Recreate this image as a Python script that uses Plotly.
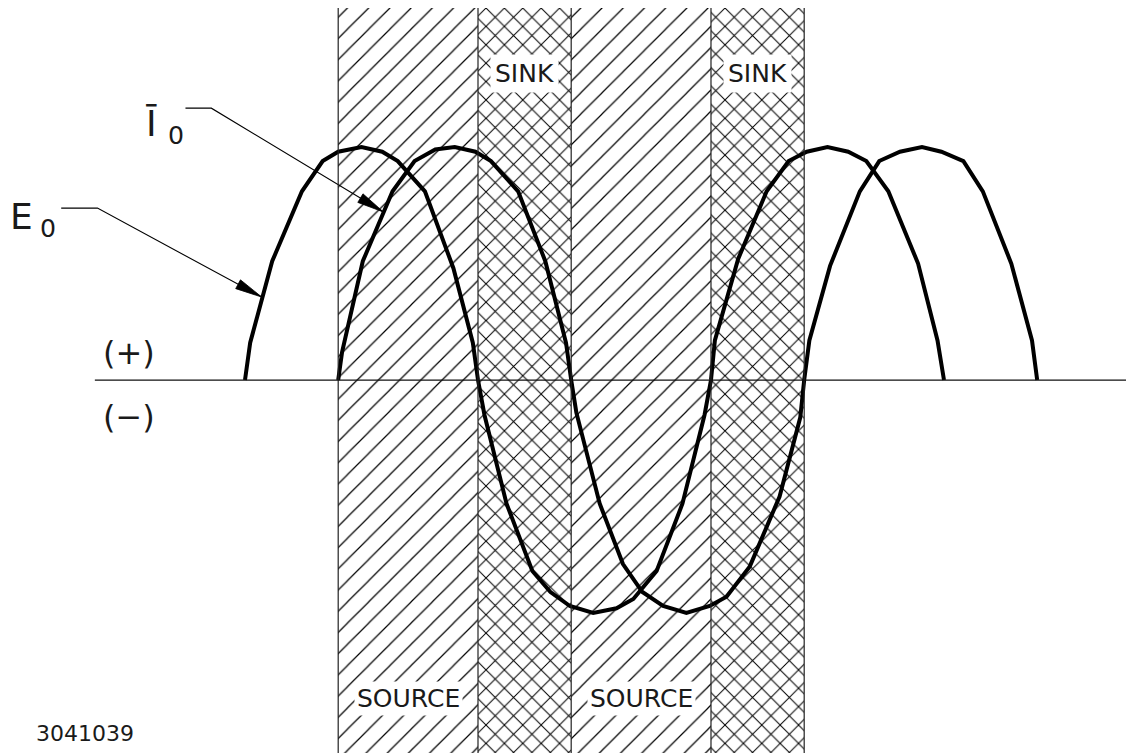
import math
import plotly.graph_objects as go

# E0 (voltage) and I0 (current) polylines, x in electrical degrees, y in per-unit
e0_deg = [0, 4, 21, 44, 60, 72, 90, 106, 118, 139, 161, 176, 180,
          185, 202, 222, 236, 251, 269, 287, 300, 318, 338, 355, 360,
          363, 381, 403, 420, 434, 450, 466, 480, 497, 520, 535, 540]
e0_val = [0, 0.16, 0.51, 0.81, 0.94, 0.98, 1.0, 0.98, 0.94, 0.81, 0.48, 0.16, 0,
          -0.15, -0.53, -0.82, -0.91, -0.97, -1.0, -0.98, -0.94, -0.82, -0.53, -0.15, 0,
          0.17, 0.52, 0.81, 0.94, 0.98, 1.0, 0.98, 0.94, 0.81, 0.50, 0.17, 0]

i0_deg = [72, 75, 91, 114, 131, 147, 162, 178, 190, 211, 232, 248, 252,
          256, 274, 292, 307, 323, 341, 359, 372, 390, 413, 429, 432,
          436, 452, 475, 490, 506, 523, 538, 555, 570, 592, 608, 612]
i0_val = [0, 0.12, 0.51, 0.81, 0.94, 0.99, 1.0, 0.98, 0.94, 0.81, 0.51, 0.16, 0,
          -0.14, -0.53, -0.79, -0.91, -0.97, -1.0, -0.97, -0.93, -0.80, -0.50, -0.16, 0,
          0.17, 0.49, 0.81, 0.94, 0.98, 1.0, 0.98, 0.94, 0.81, 0.50, 0.17, 0]

# regions between zero crossings
band_edges = [72, 180, 252, 360, 432]
band_names = ["SOURCE", "SINK", "SOURCE", "SINK"]

# leader lines for the curve labels (label end, bend, tip on curve)
e_lead_x = [-142, -114, 13]
e_lead_y = [0.738, 0.738, 0.356]
i_lead_x = [-46, -26, 107]
i_lead_y = [1.167, 1.167, 0.721]

# page body has an 8px margin, so the figure is 8px smaller than the window
W, H = 1126, 745
X_RANGE = [-183.1, 686.8]
Y_RANGE = [-1.601, 1.597]
BAND_TOP = 1.60
BAND_BOT = -1.75
FONT = "DejaVu Sans"
INK = "#1a1a1a"

sx = W / (X_RANGE[1] - X_RANGE[0])
sy = H / (Y_RANGE[1] - Y_RANGE[0])


def arrow_head(xs, ys, length=27, half=5):
    # narrow drafting arrowhead at the last point, sized in screen pixels
    x0, y0 = xs[-2] * sx, ys[-2] * sy
    x1, y1 = xs[-1] * sx, ys[-1] * sy
    d = math.hypot(x1 - x0, y1 - y0)
    ux, uy = (x1 - x0) / d, (y1 - y0) / d
    bx, by = x1 - ux * length, y1 - uy * length
    pts = [(x1, y1), (bx - uy * half, by + ux * half), (bx + uy * half, by - ux * half), (x1, y1)]
    return [p[0] / sx for p in pts], [p[1] / sy for p in pts]


fig = go.Figure()

# hatched bands
for k in range(len(band_names)):
    x0, x1 = band_edges[k], band_edges[k + 1]
    source = band_names[k] == "SOURCE"
    fig.add_trace(go.Bar(
        x=[(x0 + x1) / 2], y=[BAND_TOP - BAND_BOT], base=[BAND_BOT], width=[x1 - x0],
        marker=dict(color="white", line=dict(width=0),
                    pattern=dict(shape="/" if source else "x",
                                 fgcolor="black", bgcolor="white",
                                 size=15 if source else 13,
                                 solidity=0.08 if source else 0.15,
                                 fillmode="replace")),
        hoverinfo="skip", showlegend=False))

for x in band_edges:
    fig.add_shape(type="line", x0=x, x1=x, y0=BAND_BOT, y1=BAND_TOP,
                  line=dict(color="#222", width=1.2))

# zero line
fig.add_shape(type="line", x0=-116, x1=X_RANGE[1], y0=0, y1=0,
              line=dict(color="#111", width=1.3))

for xs, ys in [(e0_deg, e0_val), (i0_deg, i0_val)]:
    fig.add_trace(go.Scatter(x=xs, y=ys, mode="lines",
                             line=dict(color="black", width=4),
                             hoverinfo="skip", showlegend=False))

for xs, ys in [(e_lead_x, e_lead_y), (i_lead_x, i_lead_y)]:
    fig.add_trace(go.Scatter(x=xs, y=ys, mode="lines",
                             line=dict(color="black", width=1.1),
                             hoverinfo="skip", showlegend=False))
    hx, hy = arrow_head(xs, ys)
    fig.add_trace(go.Scatter(x=hx, y=hy, mode="lines", fill="toself",
                             fillcolor="black", line=dict(color="black", width=0.8),
                             hoverinfo="skip", showlegend=False))

# band labels
for k, name in enumerate(band_names):
    xc = (band_edges[k] + band_edges[k + 1]) / 2
    fig.add_annotation(x=xc, y=1.318 if name == "SINK" else -1.365, text=name,
                       showarrow=False, bgcolor="white",
                       borderpad=4 if name == "SINK" else 2,
                       font=dict(family=FONT, size=25, color=INK))

fig.add_annotation(x=-183, y=0.69, text="E\u2009<sub>0</sub>", xanchor="left",
                   showarrow=False, font=dict(family=FONT, size=36, color=INK))
fig.add_annotation(x=-78, y=1.089, text="Ī <sub>0</sub>", xanchor="left",
                   showarrow=False, font=dict(family=FONT, size=36, color=INK))
fig.add_annotation(x=-90, y=0.118, text="(+)", showarrow=False,
                   font=dict(family=FONT, size=32, color=INK))
fig.add_annotation(x=-90, y=-0.16, text="(\u2212)", showarrow=False,
                   font=dict(family=FONT, size=32, color=INK))
fig.add_annotation(x=-124, y=-1.517, text="3041039", showarrow=False,
                   font=dict(family=FONT, size=22, color=INK))

fig.update_layout(
    width=W, height=H,
    margin=dict(l=0, r=0, t=0, b=0, pad=0),
    paper_bgcolor="white", plot_bgcolor="white",
    barmode="overlay", bargap=0,
    showlegend=False, hovermode=False,
    xaxis=dict(range=X_RANGE, visible=False, fixedrange=True),
    yaxis=dict(range=Y_RANGE, visible=False, fixedrange=True),
)

fig.write_html("out.html")
